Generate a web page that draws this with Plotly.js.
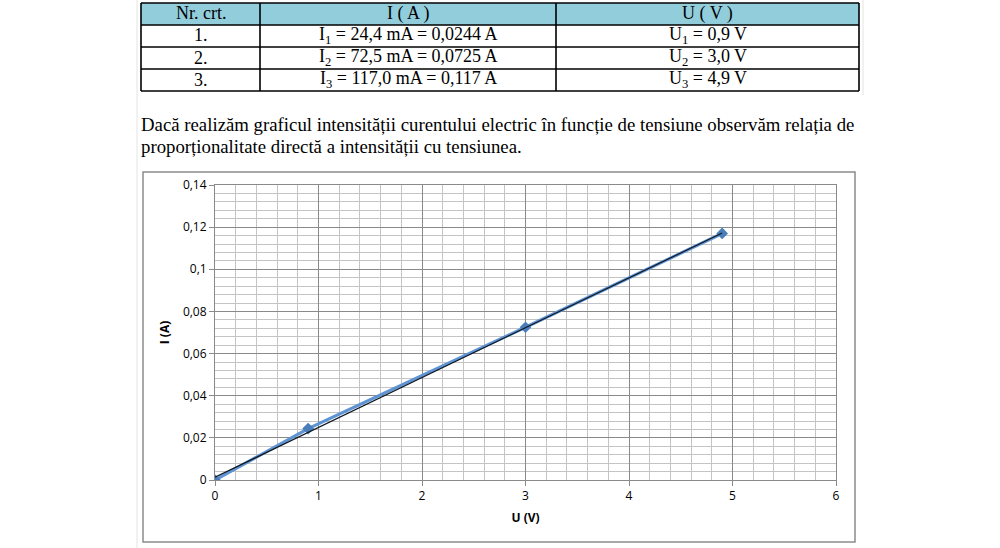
<!DOCTYPE html>
<html>
<head>
<meta charset="utf-8">
<script src="https://cdn.plot.ly/plotly-3.0.1.min.js"></script>
<style>
html,body{margin:0;padding:0;background:#fff;}
#chart{width:1000px;height:548px;}
</style>
</head>
<body>
<div id="chart"></div>
<script>
// ---- data ----
const headers = ["Nr. crt.", "I ( A )", "U ( V )"];
const rowNr = ["1.", "2.", "3."];
const colI = ["I<sub>1</sub> = 24,4 mA = 0,0244 A", "I<sub>2</sub> = 72,5 mA = 0,0725 A", "I<sub>3</sub> = 117,0 mA = 0,117 A"];
const colU = ["U<sub>1</sub> = 0,9 V", "U<sub>2</sub> = 3,0 V", "U<sub>3</sub> = 4,9 V"];
const paragraph = [
  "Dacă realizăm graficul intensității curentului electric în funcție de tensiune observăm relația de",
  "proporționalitate directă a intensității cu tensiunea."
];
const voltage = [0, 0.9, 3.0, 4.9];
const current = [0, 0.0244, 0.0725, 0.117];
const trendU = [0, 4.9];
const trendI = [0.0013, 0.1172];
const xTitle = "U (V)";
const yTitle = "I (A)";

const W = 1000, H = 548;
const px = x => x / W;
const py = y => 1 - y / H;

// table geometry (pixels)
const colEdges = [141, 260, 556, 859];
const rowEdges = [3, 25, 47, 69, 91];
const serif = {family: 'Liberation Serif', size: 18, color: '#000'};

const shapes = [];
const annotations = [];

// header fill
shapes.push({type: 'rect', xref: 'paper', yref: 'paper',
  x0: px(colEdges[0]), x1: px(colEdges[3]), y0: py(rowEdges[1]), y1: py(rowEdges[0]),
  fillcolor: '#92CDDC', line: {width: 0}, layer: 'below'});
// horizontal lines
rowEdges.forEach(y => shapes.push({type: 'line', xref: 'paper', yref: 'paper',
  x0: px(colEdges[0]), x1: px(colEdges[3]), y0: py(y), y1: py(y), line: {color: '#000', width: 1.6}}));
// vertical lines
colEdges.forEach(x => shapes.push({type: 'line', xref: 'paper', yref: 'paper',
  x0: px(x), x1: px(x), y0: py(rowEdges[4]), y1: py(rowEdges[0]), line: {color: '#000', width: 1.6}}));

const cols = [[headers[0]].concat(rowNr), [headers[1]].concat(colI), [headers[2]].concat(colU)];
cols.forEach((col, c) => {
  col.forEach((t, r) => {
    annotations.push({text: t, xref: 'paper', yref: 'paper',
      x: px((colEdges[c] + colEdges[c + 1]) / 2), y: py((rowEdges[r] + rowEdges[r + 1]) / 2 - 0.5),
      xanchor: 'center', yanchor: 'middle', showarrow: false, font: serif});
  });
});

paragraph.forEach((t, i) => annotations.push({
  text: t, xref: 'paper', yref: 'paper',
  x: px(139), y: py(124 + i * 22), xanchor: 'left', yanchor: 'middle',
  showarrow: false,
  font: {family: 'Liberation Serif', size: 18.8, color: '#000'}
}));

// chart frame and page margins
shapes.push({type: 'rect', xref: 'paper', yref: 'paper', x0: px(143), x1: px(855), y0: py(542), y1: py(172),
  line: {color: '#8C8C8C', width: 1.5}, fillcolor: 'rgba(0,0,0,0)', layer: 'below'});
shapes.push({type: 'line', xref: 'paper', yref: 'paper', x0: px(137), x1: px(137), y0: py(548), y1: py(0),
  line: {color: '#E4E4E4', width: 1}});
shapes.push({type: 'line', xref: 'paper', yref: 'paper', x0: px(863), x1: px(863), y0: py(95), y1: py(0),
  line: {color: '#E4E4E4', width: 1}});

const lineTrace = {
  type: 'scatter',
  mode: 'lines+markers',
  x: voltage,
  y: current,
  line: {color: '#5F94D4', width: 3.2},
  marker: {symbol: 'diamond', size: 9, color: '#4A7EBB'},
  showlegend: false
};

const trendTrace = {
  type: 'scatter',
  mode: 'lines',
  x: trendU,
  y: trendI,
  line: {color: '#101820', width: 1.2},
  showlegend: false
};

const sans = 'Open Sans, Liberation Sans, sans-serif';
const tickFont = {family: sans, size: 12, color: '#000'};

const layout = {
  width: W, height: H,
  margin: {l: 0, r: 0, t: 0, b: 0},
  paper_bgcolor: '#fff',
  plot_bgcolor: '#fff',
  separators: ',.',
  showlegend: false,
  xaxis: {
    domain: [px(215), px(836)],
    range: [0, 6],
    dtick: 1, tick0: 0,
    showgrid: true, gridcolor: '#8A8A8A', gridwidth: 1,
    minor: {dtick: 0.2, tick0: 0, showgrid: true, gridcolor: '#C4C4C4', gridwidth: 1},
    showline: true, linecolor: '#8A8A8A', linewidth: 1, mirror: true,
    ticks: 'outside', ticklen: 5, tickcolor: '#8A8A8A',
    zeroline: false,
    tickfont: tickFont,
    title: {text: xTitle, font: {family: sans, size: 12, color: '#000', weight: 'bold'}, standoff: 10}
  },
  yaxis: {
    domain: [py(480), py(185)],
    range: [0, 0.14],
    dtick: 0.02, tick0: 0,
    showgrid: true, gridcolor: '#8A8A8A', gridwidth: 1,
    minor: {dtick: 0.004, tick0: 0, showgrid: true, gridcolor: '#C4C4C4', gridwidth: 1},
    showline: true, linecolor: '#8A8A8A', linewidth: 1, mirror: true,
    ticks: 'outside', ticklen: 5, tickcolor: '#8A8A8A',
    zeroline: false,
    tickfont: tickFont,
    title: {text: yTitle, font: {family: sans, size: 12, color: '#000', weight: 'bold'}, standoff: 10}
  },
  shapes: shapes,
  annotations: annotations
};

Plotly.newPlot('chart', [lineTrace, trendTrace], layout, {displayModeBar: false, staticPlot: true});
</script>
</body>
</html>
